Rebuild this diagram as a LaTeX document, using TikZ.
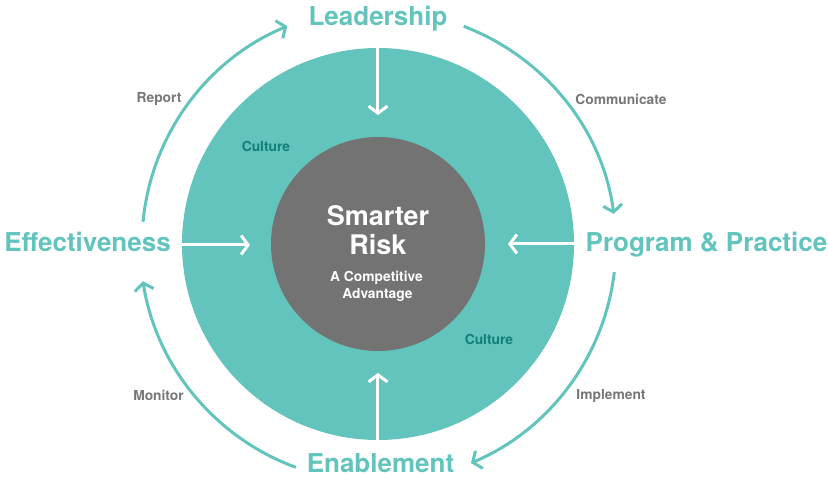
\documentclass[tikz,border=0pt]{standalone}
\usepackage{fontspec}
\setmainfont{TeX Gyre Heros}
\usetikzlibrary{arrows.meta}
\definecolor{tealc}{HTML}{62C4BC}
\definecolor{grayc}{HTML}{737373}
\definecolor{labelc}{HTML}{767676}
\definecolor{darkteal}{HTML}{117F78}
\tikzset{
  big/.style={font=\bfseries\fontsize{26}{30}\selectfont, text=tealc, anchor=base, inner sep=0pt},
  small/.style={font=\bfseries\fontsize{13.8}{16}\selectfont, text=labelc, anchor=base, inner sep=0pt},
  culture/.style={font=\bfseries\fontsize{13.8}{16}\selectfont, text=darkteal, anchor=base, inner sep=0pt},
  centre/.style={text=white, anchor=base, inner sep=0pt},
  cyc/.style={draw=tealc, line width=3pt, -{Straight Barb[length=7pt,width=19pt,line width=3pt]}},
  inarrow/.style={draw=white, line width=3pt, -{Straight Barb[length=7pt,width=19pt,line width=3pt]}},
}
\begin{document}
\begin{tikzpicture}[x=1pt,y=1pt]
\useasboundingbox (-378,-234) rectangle (450,244);
% circles
\node[circle, fill=tealc, minimum size=392pt, inner sep=0pt] (outer) at (0,0) {};
\node[circle, fill=grayc, minimum size=214pt, inner sep=0pt] (inner) at (0,0) {};
% main labels
\node[big] (lead) at (0,218) {Leadership};
\node[big] (eff) at (-290.5,-8) {Effectiveness};
\node[big] (prog) at (328.5,-8) {Program \& Practice};
\node[big] (enab) at (2.5,-229) {Enablement};
% centre text
\node[centre, font=\bfseries\fontsize{27}{30}\selectfont] (smarter) at (0,18) {Smarter};
\node[centre, font=\bfseries\fontsize{27}{30}\selectfont] (risk) at (0,-11) {Risk};
\node[centre, font=\bfseries\fontsize{13.8}{16}\selectfont] (comp) at (-1.5,-38) {A Competitive};
\node[centre, font=\bfseries\fontsize{13.8}{16}\selectfont] (adv) at (-0.5,-55) {Advantage};
% culture
\node[culture] (cult1) at (-112,92) {Culture};
\node[culture] (cult2) at (111,-101) {Culture};
% cycle labels
\node[small] (report) at (-219,141) {Report};
\node[small] (comm) at (243,139) {Communicate};
\node[small] (impl) at (233,-156) {Implement};
\node[small] (mon) at (-219.5,-157) {Monitor};
% inward arrows
\coordinate (tn) at (0,129);
\coordinate (tw) at (-128,-1);
\coordinate (te) at (130,0);
\coordinate (ts) at (0,-129);
\draw[inarrow] (outer.north) -- (tn);
\draw[inarrow] (outer.west |- tw) -- (tw);
\draw[inarrow] (outer.east) -- (te);
\draw[inarrow] (outer.south) -- (ts);
% cycle arcs
\coordinate (a1) at (174.6:236);
\coordinate (a2) at (68.5:234);
\coordinate (a3) at (-6.8:238);
\coordinate (a4) at (-110.2:238);
\draw[cyc] (a1) arc[start angle=174.6, end angle=112.6, radius=236];
\draw[cyc] (a2) arc[start angle=68.5, end angle=7.4, x radius=240, y radius=234];
\draw[cyc] (a3) arc[start angle=-6.8, end angle=-67, radius=238];
\draw[cyc] (a4) arc[start angle=-110.2, end angle=-171, radius=238];
\end{tikzpicture}
\end{document}
